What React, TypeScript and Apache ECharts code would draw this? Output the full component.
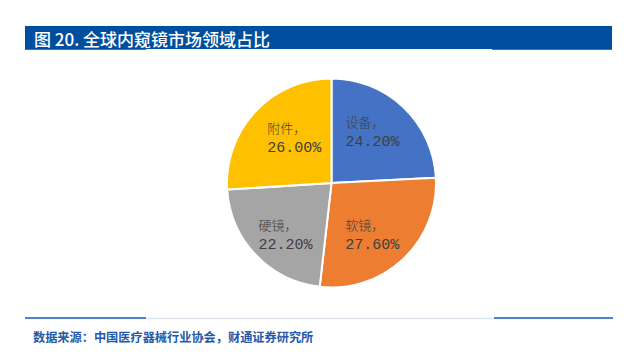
import React, { useEffect, useRef } from "react";
import * as echarts from "echarts";

const categories = ["设备", "软镜", "硬镜", "附件"];
const shares = [24.2, 27.6, 22.2, 26.0];
const sliceColors = ["#4472C4", "#ED7D31", "#A5A5A5", "#FFC000"];
const labelOffsets = [
  [3, -11],
  [3, 12],
  [-6, 14],
  [3, -7],
];
const titleText = "图 20. 全球内窥镜市场领域占比";
const sourceText = "数据来源：中国医疗器械行业协会，财通证券研究所";

export default function App() {
  const ref = useRef<HTMLDivElement>(null);
  useEffect(() => {
    document.body.style.margin = "0";
    const chart = echarts.init(ref.current!, null, { renderer: "svg" });
    chart.setOption({
      animation: false,
      backgroundColor: "#ffffff",
      graphic: [
        {
          type: "rect",
          shape: { x: 25, y: 26, width: 587, height: 23 },
          style: { fill: "#004F9F" },
        },
        {
          type: "line",
          shape: { x1: 25, y1: 49.5, x2: 146, y2: 49.5 },
          style: { stroke: "#3D74B8", lineWidth: 1 },
        },
        {
          type: "line",
          shape: { x1: 492, y1: 49.5, x2: 612, y2: 49.5 },
          style: { stroke: "#3D74B8", lineWidth: 1 },
        },
        {
          type: "text",
          x: 34,
          y: 38,
          style: {
            text: titleText,
            fill: "#ffffff",
            fontSize: 17,
            fontFamily: "Noto Sans CJK SC",
            fontWeight: 500,
            verticalAlign: "middle",
            align: "left",
          },
        },
        {
          type: "line",
          shape: { x1: 25, y1: 318.5, x2: 613, y2: 318.5 },
          style: { stroke: "#DCE4EE", lineWidth: 1.5 },
        },
        {
          type: "line",
          shape: { x1: 25, y1: 318, x2: 146, y2: 318 },
          style: { stroke: "#4A86C8", lineWidth: 2 },
        },
        {
          type: "line",
          shape: { x1: 494, y1: 318, x2: 613, y2: 318 },
          style: { stroke: "#4A86C8", lineWidth: 2 },
        },
        {
          type: "text",
          x: 33,
          y: 337,
          style: {
            text: sourceText,
            fill: "#2558A6",
            fontSize: 12.2,
            fontFamily: "Noto Sans CJK SC",
            fontWeight: "bold",
            verticalAlign: "middle",
            align: "left",
          },
        },
      ],
      series: [
        {
          type: "pie",
          center: [331.5, 183],
          radius: [0, 104.5],
          startAngle: 90,
          clockwise: true,
          label: {
            show: true,
            position: "inside",
            formatter: (p: any) =>
              `{a|${p.name}，}\n{b|${p.value.toFixed(2)}%}`,
            rich: {
              a: {
                fontSize: 13,
                color: "#404040",
                fontFamily: "Noto Sans CJK SC",
                fontWeight: 300,
                lineHeight: 21,
                align: "left",
              },
              b: {
                fontSize: 15,
                color: "#404040",
                fontFamily: "Liberation Mono",
                lineHeight: 21,
                align: "left",
              },
            },
          },
          labelLine: { show: false },
          itemStyle: { borderColor: "#ffffff", borderWidth: 2 },
          emphasis: { disabled: true },
          data: categories.map((name, i) => ({
            name,
            value: shares[i],
            itemStyle: { color: sliceColors[i] },
            label: { offset: labelOffsets[i] },
          })),
        },
      ],
    });
    return () => chart.dispose();
  }, []);
  return (
    <div
      ref={ref}
      style={{ position: "fixed", left: 0, top: 0, width: 637, height: 354 }}
    />
  );
}
